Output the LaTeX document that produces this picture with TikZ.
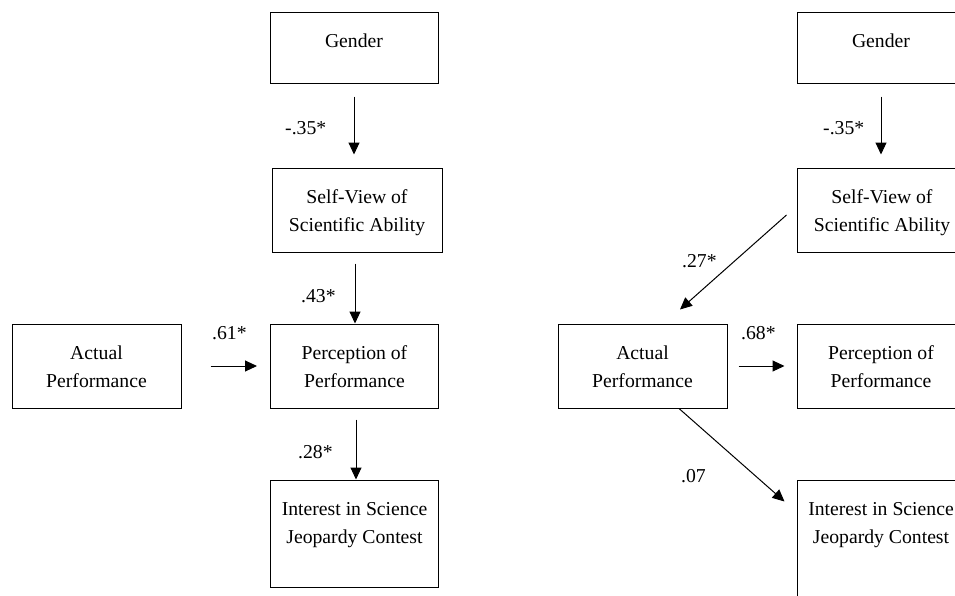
\documentclass[tikz,border=0pt]{standalone}
\usepackage{fontspec}
\setmainfont{Liberation Serif}
\usetikzlibrary{calc,arrows.meta}
\begin{document}
\begin{tikzpicture}[x=1pt,y=-1pt,
  box/.style={draw,line width=1pt,rectangle,inner sep=0pt,minimum width=168pt},
  boxtext/.style={anchor=north,inner sep=0pt,align=center,font=\fontsize{19.7}{27.5}\selectfont},
  lbl/.style={anchor=base west,inner sep=0pt,font=\fontsize{19.7}{24}\selectfont},
  arr/.style={line width=1pt,-{Triangle[length=12pt,width=11pt]}}]
\newcommand\lstr{\rule{0pt}{14pt}}
\clip (0,0) rectangle (955,595);
\fill[white] (0,0) rectangle (955,595);
% ---------- left model ----------
\node[box,minimum height=71pt] (g1) at (354,47.5) {};
\node[box,minimum width=170pt,minimum height=84pt] (sv1) at (357,210) {};
\node[box,minimum height=84pt] (p1) at (354.5,366) {};
\node[box,minimum width=169pt,minimum height=84pt] (a1) at (96.5,366) {};
\node[box,minimum height=107pt] (i1) at (354.5,533.5) {};
\node[boxtext] (g1t) at ($(g1.north)+(0,22)$) {\lstr Gender};
\node[boxtext] (sv1t) at ($(sv1.north)+(0,22)$) {\lstr Self-View of\\Scientific Ability};
\node[boxtext] (p1t) at ($(p1.north)+(0,22)$) {\lstr Perception of\\Performance};
\node[boxtext] (a1t) at ($(a1.north)+(0,22)$) {\lstr Actual\\Performance};
\node[boxtext] (i1t) at ($(i1.north)+(0,22)$) {\lstr Interest in Science\\Jeopardy Contest};
\coordinate (v1s) at (g1.south);
\coordinate (v1e) at (v1s |- sv1.north);
\draw[arr,shorten <=13pt,shorten >=13pt] (v1s) -- (v1e);
\coordinate (v2s) at ($(sv1.south)+(-2,0)$);
\coordinate (v2e) at (v2s |- p1.north);
\draw[arr,shorten <=11pt] (v2s) -- (v2e);
\coordinate (v3s) at ($(p1.south)+(1.5,0)$);
\coordinate (v3e) at (v3s |- i1.north);
\draw[arr,shorten <=11pt] (v3s) -- (v3e);
\draw[arr,shorten <=29pt,shorten >=13pt] (a1.east) -- (p1.west);
\node[lbl] (l1) at (285,134) {-.35*};
\node[lbl] (l2) at (301,302) {.43*};
\node[lbl] (l3) at (212,339) {.61*};
\node[lbl] (l4) at (298,458) {.28*};
% ---------- right model ----------
\node[box,minimum height=71pt] (g2) at (881,47.5) {};
\node[box,minimum width=170pt,minimum height=84pt] (sv2) at (882,210) {};
\node[box,minimum height=84pt] (p2) at (881,366) {};
\node[box,minimum width=169pt,minimum height=84pt] (a2) at (642.5,366) {};
\node[box,minimum height=130pt] (i2) at (881,545) {};
\node[boxtext] (g2t) at ($(g2.north)+(0,22)$) {\lstr Gender};
\node[boxtext] (sv2t) at ($(sv2.north)+(0,22)$) {\lstr Self-View of\\Scientific Ability};
\node[boxtext] (p2t) at ($(p2.north)+(0,22)$) {\lstr Perception of\\Performance};
\node[boxtext] (a2t) at ($(a2.north)+(0,22)$) {\lstr Actual\\Performance};
\node[boxtext] (i2t) at ($(i2.north)+(0,22)$) {\lstr Interest in Science\\Jeopardy Contest};
\coordinate (w1s) at (g2.south);
\coordinate (w1e) at (w1s |- sv2.north);
\draw[arr,shorten <=13pt,shorten >=13pt] (w1s) -- (w1e);
\coordinate (d1s) at ($(sv2.west)+(-10,5)$);
\coordinate (d1e) at ($(a2.north)+(37.5,-14)$);
\draw[arr] (d1s) -- (d1e);
\draw[arr,shorten <=11pt,shorten >=12pt] (a2.east) -- (p2.west);
\coordinate (d2s) at ($(a2.south)+(36.5,0)$);
\coordinate (d2e) at ($(i2.north west)+(-12,22)$);
\draw[arr] (d2s) -- (d2e);
\node[lbl] (r1) at (823,134) {-.35*};
\node[lbl] (r2) at (682,267) {.27*};
\node[lbl] (r3) at (741,339) {.68*};
\node[lbl] (r4) at (681,482) {.07};
\end{tikzpicture}
\end{document}
